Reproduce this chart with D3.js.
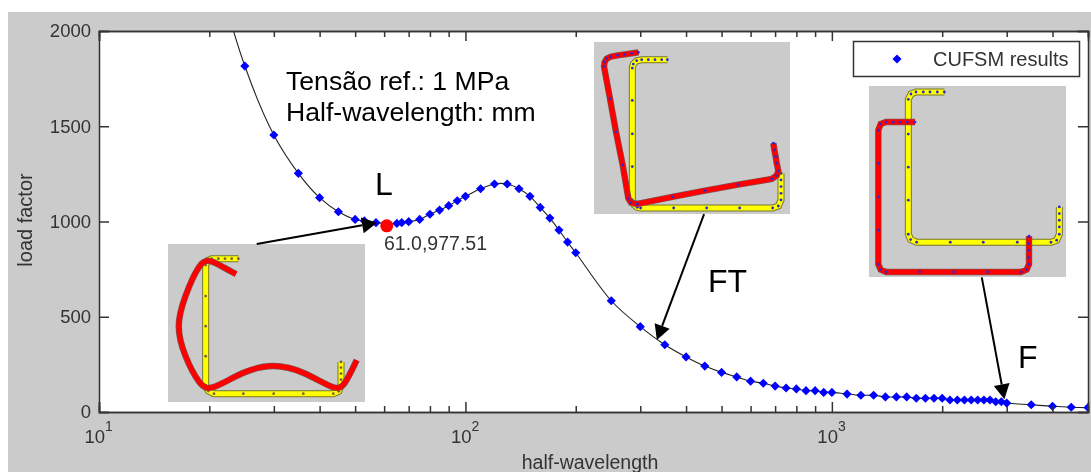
<!doctype html>
<html lang="en">
<head>
<meta charset="utf-8">
<title>CUFSM signature curve</title>
<style>
html, body { margin: 0; padding: 0; background: #fff; }
svg { display: block; font-family: "Liberation Sans", Arial, sans-serif; filter: blur(0.4px); }
.axis path, .axis line { stroke: #333; stroke-width: 1.5; }
.axis text, .lab { fill: #333; font-size: 18.5px; }
.note { fill: #000; font-size: 26.6px; }
.big { fill: #000; font-size: 32px; }
</style>
<script src="https://d3js.org/d3.v7.min.js"></script>
</head>
<body>
<svg width="1091" height="472"></svg>
<script>

// half-wavelength (mm) and load factor
const halfWavelength = [20, 25, 30, 35, 40, 45, 50, 53, 57, 65, 67, 70, 75, 80, 85, 90, 95, 100,
  110, 120, 130, 140, 150, 160, 170, 180, 190, 200, 250, 300, 350, 400, 450, 500, 550, 600, 650,
  700, 750, 800, 850, 900, 950, 1000, 1100, 1200, 1300, 1400, 1500, 1600, 1700, 1800, 1900, 2000,
  2100, 2200, 2300, 2400, 2500, 2600, 2700, 2800, 2900, 3000, 3500, 4000, 4500, 5000];
const loadFactor = [2450, 1816, 1454, 1253, 1125, 1051, 1011, 1003, 994, 990, 994, 999, 1011, 1038,
  1060, 1083, 1109, 1132, 1172, 1197, 1197, 1172, 1132, 1074, 1018, 955, 892, 836, 584, 448, 353,
  289, 241, 208, 184, 162, 151, 136, 126, 121, 112, 112, 103, 103, 94, 88, 88, 79, 79, 79, 72, 72,
  72, 72, 63, 63, 63, 63, 63, 63, 63, 54, 54, 47, 38, 30, 25, 23];

const minimum = { x: 61.0, y: 977.51 };
const legendLabel = 'CUFSM results';

const xMajor = [10, 100, 1000];
const xMinor = [20, 30, 40, 50, 60, 70, 80, 90, 200, 300, 400, 500, 600, 700, 800, 900,
  2000, 3000, 4000, 5000];
const yTicks = [0, 500, 1000, 1500, 2000];

// arrows in chart units: tail, tip
const arrowTails = [[26.94, 882], [448, 1039], [2565, 707]];
const arrowTips = [[57.4, 994], [333, 378], [2957, 67]];

// cross sections, in strip-model units, one vertex per node
const sectionL = {
  box: [84, 675, 72, 545],
  yellow: [[295,116],[275,116],[255,116],[235,116],[215,116],[203,122],[197,135],[197,228],[197,318],[197,408],[197,495],[205,512],[222,520],[310,520],[401,520],[490,520],[580,520],[596,513],[603,497],[603,478],[603,460],[603,442],[603,425]],
  red: [[288,162],[252,143],[210,118],[180,124],[133,230],[108,318],[133,408],[180,497],[212,512],[310,452],[400,430],[490,452],[585,510],[612,500],[650,420]]
};
const sectionFT = {
  box: [42, 630, 37, 552],
  yellow: [[262,90],[245,90],[225,90],[205,90],[185,90],[170,93],[160,103],[157,115],[157,212],[157,312],[157,410],[157,510],[163,525],[172,532],[182,534],[281,534],[380,534],[479,534],[578,534],[595,528],[603,510],[603,490],[603,470],[603,450],[603,430]],
  red: [[175,68],[155,71],[134,74],[113,77],[92,81],[80,87],[74,97],[72,110],[90,207],[108,306],[128,405],[145,505],[153,518],[172,522],[277,501],[375,482],[474,464],[575,447],[590,437],[595,423],[590,400],[587,380],[583,360],[580,340]]
};
const sectionF = {
  box: [57, 648, 168, 740],
  yellow: [[283,186],[262,186],[240,186],[220,186],[198,186],[183,192],[175,208],[175,312],[175,411],[175,510],[175,612],[182,628],[200,636],[301,636],[400,636],[502,636],[603,636],[620,630],[628,612],[628,590],[628,570],[628,550],[628,530]],
  red: [[195,276],[172,276],[150,276],[130,276],[108,276],[92,282],[85,300],[85,400],[85,500],[85,600],[85,702],[92,718],[108,725],[210,725],[311,725],[413,725],[513,725],[530,718],[537,702],[537,682],[537,660],[537,640],[537,618]]
};

const svg = d3.select('svg');

svg.append('rect').attr('x', 8).attr('y', 12).attr('width', 1083).attr('height', 460).attr('fill', '#cbcbcb');

const left = 99, right = 1088, top_ = 31, bottom = 412;

let x = d3.scaleLog().domain([10, 5000]).range([left, right]);
let y = d3.scaleLinear().domain([0, 2000]).range([bottom, top_]);

svg.append('rect').attr('x', left).attr('y', top_).attr('width', right - left).attr('height', bottom - top_).attr('fill', '#fff');

svg.append('clipPath').attr('id', 'plot').append('rect')
  .attr('x', left).attr('y', top_).attr('width', right - left + 1).attr('height', bottom - top_);

// curve and markers
let points = halfWavelength.map((d, i) => [d, loadFactor[i]]);
let curve = d3.line().x(d => x(d[0])).y(d => y(d[1])).curve(d3.curveCatmullRom);
let plot = svg.append('g').attr('clip-path', 'url(#plot)');

plot.append('path').attr('d', curve(points)).attr('fill', 'none').attr('stroke', '#222').attr('stroke-width', 1.1);

let diamond = d3.symbol(d3.symbolSquare, 42);
plot.selectAll('path.pt').data(points).enter().append('path')
  .attr('class', 'pt')
  .attr('d', diamond)
  .attr('fill', '#0000ff')
  .attr('transform', d => 'translate(' + x(d[0]) + ',' + y(d[1]) + ') rotate(45)');

plot.append('circle').attr('cx', x(minimum.x)).attr('cy', y(minimum.y)).attr('r', 6.5).attr('fill', '#ff0000');

// axes, ticks point inwards
function addAxis(axis, tx, ty) {
  return svg.append('g').attr('class', 'axis')
    .attr('transform', 'translate(' + tx + ',' + ty + ')')
    .call(axis);
}

addAxis(d3.axisBottom(x).tickValues(xMajor).tickSize(-10).tickFormat(''), 0, bottom);
addAxis(d3.axisBottom(x).tickValues(xMinor).tickSize(-6).tickFormat(''), 0, bottom);
addAxis(d3.axisTop(x).tickValues(xMajor).tickSize(-10).tickFormat(''), 0, top_);
addAxis(d3.axisTop(x).tickValues(xMinor).tickSize(-6).tickFormat(''), 0, top_);
addAxis(d3.axisLeft(y).tickValues(yTicks).tickSize(-10).tickPadding(8).tickFormat(d3.format('d')), left, 0);
addAxis(d3.axisRight(y).tickValues(yTicks).tickSize(-10).tickFormat(''), right, 0);

xMajor.forEach(function(d) {
  let t = svg.append('text').attr('class', 'lab')
    .attr('x', x(d) - 14.5).attr('y', 443);
  t.append('tspan').text('10');
  t.append('tspan').text(Math.log10(d)).attr('dy', -12).style('font-size', '14px');
});

svg.append('text').attr('class', 'lab').attr('text-anchor', 'middle').attr('x', 590).attr('y', 469)
  .style('font-size', '19.5px').text('half-wavelength');
svg.append('text').attr('class', 'lab').attr('text-anchor', 'middle')
  .attr('transform', 'translate(32,220) rotate(-90)').style('font-size', '20px').text('load factor');

svg.append('text').attr('class', 'lab').attr('x', 384).attr('y', 250).style('font-size', '19.5px')
  .text(minimum.x.toFixed(1) + ',' + minimum.y);

// legend
svg.append('rect').attr('x', 853.5).attr('y', 41.5).attr('width', 226).attr('height', 35)
  .attr('fill', '#fff').attr('stroke', '#333').attr('stroke-width', 1.5);
svg.append('path').attr('d', diamond).attr('fill', '#0000ff').attr('transform', 'translate(897,59) rotate(45)');
svg.append('text').attr('class', 'lab').attr('x', 933).attr('y', 66).style('font-size', '20px').text(legendLabel);

// text notes
svg.append('text').attr('class', 'note').attr('x', 286).attr('y', 90).text('Tensão ref.: 1 MPa');
svg.append('text').attr('class', 'note').attr('x', 286).attr('y', 121).text('Half-wavelength: mm');
svg.append('text').attr('class', 'big').attr('x', 375).attr('y', 195).text('L');
svg.append('text').attr('class', 'big').attr('x', 708).attr('y', 292).text('FT');
svg.append('text').attr('class', 'big').attr('x', 1018).attr('y', 368).text('F');

// cross section insets
function drawSection(section, px, py, pw, ph, dots, redCurve) {
  let sx = d3.scaleLinear().domain(section.box.slice(0, 2)).range([px, px + pw]);
  let sy = d3.scaleLinear().domain(section.box.slice(2, 4)).range([py, py + ph]);
  let line = d3.line().x(d => sx(d[0])).y(d => sy(d[1]));
  let g = svg.append('g');
  g.append('rect').attr('x', px).attr('y', py).attr('width', pw).attr('height', ph).attr('fill', '#cbcbcb');
  [[section.yellow, '#ffff00', '#77772a', 5, 7, d3.curveLinear], [section.red, '#ff0000', '#805050', 5, 6.4, redCurve]].forEach(function(s) {
    let d = line.curve(s[5])(s[0]);
    g.append('path').attr('d', d).attr('fill', 'none').attr('stroke', s[2]).attr('stroke-width', s[4]);
    g.append('path').attr('d', d).attr('fill', 'none').attr('stroke', s[1]).attr('stroke-width', s[3]);
    if (redCurve === d3.curveLinear || s[5] === d3.curveLinear) {
      g.selectAll(null).data(s[0]).enter().append('circle')
        .attr('cx', d => sx(d[0])).attr('cy', d => sy(d[1])).attr('r', 1.4).attr('fill', dots);
    }
  });
}

drawSection(sectionL, 168, 244, 197, 158, '#80603a', d3.curveBasis);
drawSection(sectionFT, 594, 42, 196, 172, '#2a2ad0', d3.curveLinear);
drawSection(sectionF, 869, 86, 197, 191, '#2a2ad0', d3.curveLinear);

// arrows
function drawArrow(tail, tip, headLen, headWidth) {
  let x0 = x(tail[0]), y0 = y(tail[1]), x1 = x(tip[0]), y1 = y(tip[1]);
  let angle = Math.atan2(y1 - y0, x1 - x0);
  let ux = Math.cos(angle), uy = Math.sin(angle);
  let bx = x1 - ux * headLen, by = y1 - uy * headLen;
  svg.append('line').attr('x1', x0).attr('y1', y0).attr('x2', bx).attr('y2', by)
    .attr('stroke', '#000').attr('stroke-width', 2);
  svg.append('path').attr('fill', '#000').attr('d', d3.line()([
    [x1, y1],
    [bx - uy * headWidth / 2, by + ux * headWidth / 2],
    [bx + uy * headWidth / 2, by - ux * headWidth / 2]
  ]) + 'Z');
}

arrowTails.forEach((d, i) => drawArrow(d, arrowTips[i], 15, 16));

</script>
</body>
</html>
